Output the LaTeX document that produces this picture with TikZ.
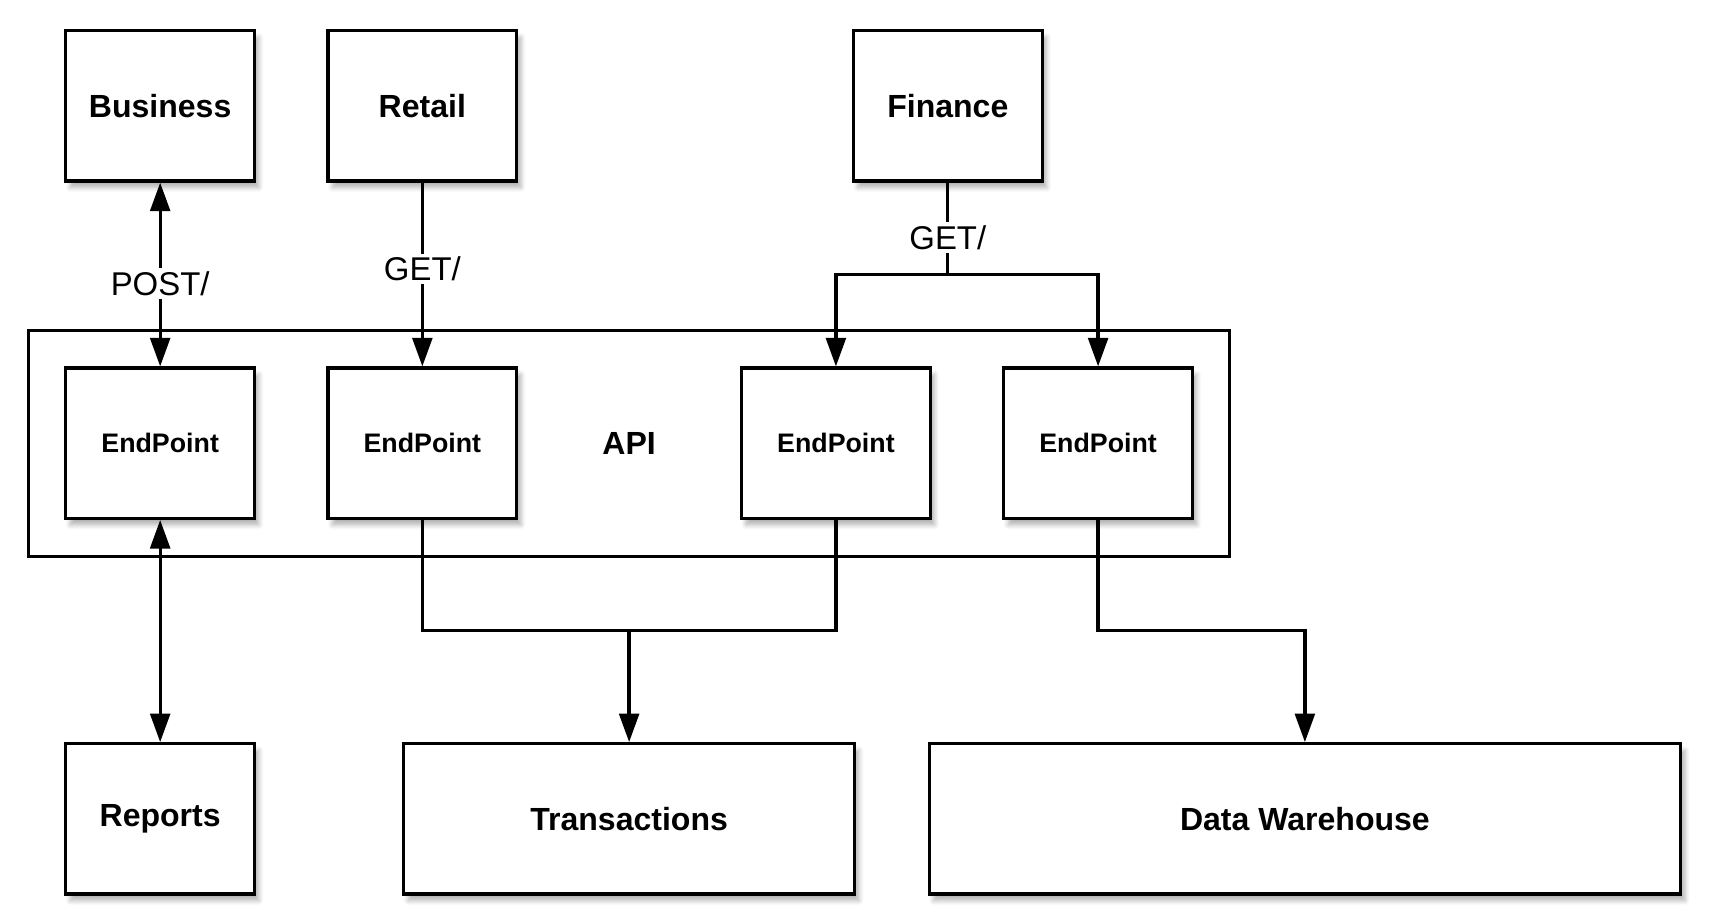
\documentclass[tikz,border=0pt]{standalone}
\usepackage{fontspec}
\setmainfont{Liberation Sans}
\usetikzlibrary{arrows.meta,shadows.blur}

\tikzset{
	box/.style={draw, line width=1.5pt, fill=white, minimum width=86pt, minimum height=68.5pt,
		blur shadow={shadow xshift=2pt, shadow yshift=-3pt, shadow blur steps=6, shadow opacity=30},
		font=\fontsize{14.6}{17}\selectfont\bfseries},
	ep/.style={box, font=\fontsize{12.2}{14}\selectfont\bfseries},
	wire/.style={line width=1.5pt},
	arr/.style={wire, -{Triangle[length=13pt, width=9pt]}},
	barr/.style={wire, {Triangle[length=13pt, width=9pt]}-{Triangle[length=13pt, width=9pt]}},
	lbl/.style={fill=white, inner sep=1.5pt, font=\fontsize{15}{17}\selectfont}
}

\begin{document}
\begin{tikzpicture}[x=0.5pt, y=-0.5pt]
	\useasboundingbox (0,0) rectangle (1567,840);

	% clients
	\node[box] (business) at (146, 96.5) {Business};
	\node[box] (retail) at (385, 96.5) {Retail};
	\node[box] (finance) at (864, 96.5) {Finance};

	% api with its endpoints
	\node[draw, line width=1.5pt, minimum width=547.5pt, minimum height=103pt,
		font=\fontsize{14.6}{17}\selectfont\bfseries] (api) at (573.5, 404) {API};
	\node[ep] (ep1) at (146, 404) {EndPoint};
	\node[ep] (ep2) at (385, 404) {EndPoint};
	\node[ep] (ep3) at (762, 404) {EndPoint};
	\node[ep] (ep4) at (1001, 404) {EndPoint};

	% stores
	\node[box] (reports) at (146, 746.5) {Reports};
	\node[box, minimum width=205.5pt] (trans) at (573.5, 746.5) {Transactions};
	\node[box, minimum width=342.5pt] (dw) at (1189.5, 746.5) {Data Warehouse};

	\coordinate (fsplit) at (864, 250);
	\coordinate (tjoin) at (573.5, 575);
	\coordinate (dwjoin) at (1189.5, 575);

	% Draw the requests from the clients
	\draw[barr] (business) -- node[lbl, pos=0.55] {POST/} (ep1);
	\draw[arr] (retail) -- node[lbl, pos=0.47] {GET/} (ep2);
	\draw[wire] (finance) -- node[lbl, pos=0.6] {GET/} (fsplit);
	\draw[arr] (fsplit) -| (ep3);
	\draw[arr] (fsplit) -| (ep4);

	% Draw the links to the stores
	\draw[barr] (ep1) -- (reports);
	\draw[wire] (ep2.south) |- (tjoin) -| (ep3.south);
	\draw[arr] (tjoin) -- (trans);
	\draw[arr] (ep4.south) |- (dwjoin) -- (dw);
\end{tikzpicture}
\end{document}
